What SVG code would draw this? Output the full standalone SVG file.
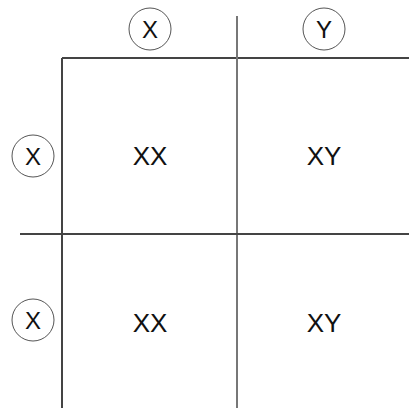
<svg xmlns="http://www.w3.org/2000/svg" width="409" height="411" viewBox="0 0 409 411">
<style>
.ln{stroke:#444;stroke-width:2;fill:none}
.c{fill:none;stroke:#555;stroke-width:1}
.t{font-family:"Liberation Sans",Arial,sans-serif;font-size:26px;fill:#111;text-anchor:middle}
.l{font-family:"Liberation Sans",Arial,sans-serif;font-size:24px;fill:#111;text-anchor:middle}
</style>
<rect width="409" height="411" fill="#fff"/>
<g id="connectors">
<line class="ln" x1="62" y1="58" x2="62" y2="408"/>
<line class="ln" x1="62" y1="58" x2="409" y2="58"/>
<line class="ln" x1="237" y1="16" x2="237" y2="408" style="stroke:#777"/>
<line class="ln" x1="20" y1="234" x2="409" y2="234"/>
</g>
<g id="head-x"><circle class="c" cx="150" cy="29" r="21"/><text class="l" x="150" y="38">X</text></g>
<g id="head-y"><circle class="c" cx="324" cy="29" r="21"/><text class="l" x="324" y="38">Y</text></g>
<g id="row-x1"><circle class="c" cx="33" cy="156" r="21"/><text class="l" x="33" y="165">X</text></g>
<g id="row-x2"><circle class="c" cx="33" cy="320" r="21"/><text class="l" x="33" y="329">X</text></g>
<g id="cell-11"><text class="t" x="150" y="165">XX</text></g>
<g id="cell-12"><text class="t" x="324" y="165">XY</text></g>
<g id="cell-21"><text class="t" x="150" y="332">XX</text></g>
<g id="cell-22"><text class="t" x="324" y="332">XY</text></g>
</svg>
